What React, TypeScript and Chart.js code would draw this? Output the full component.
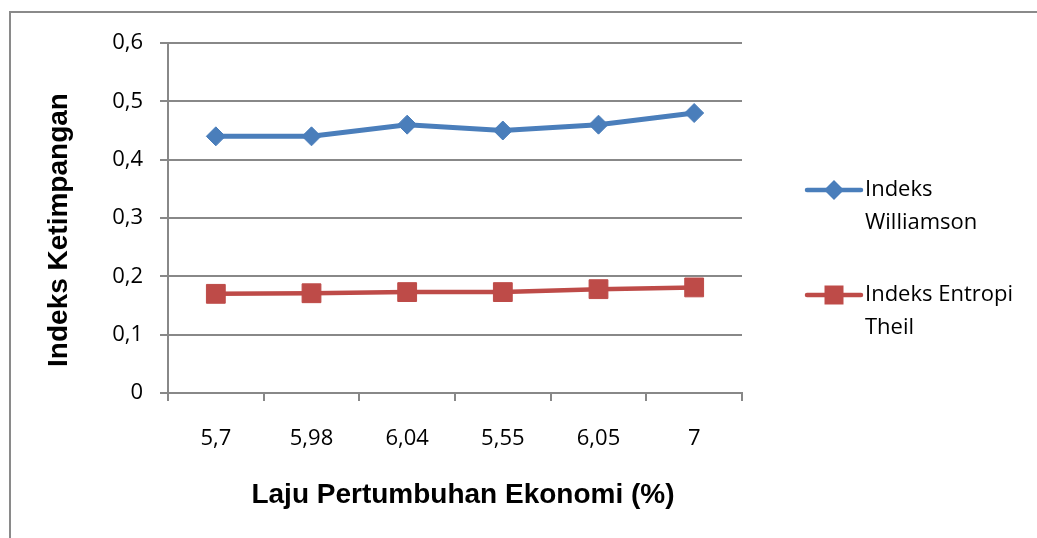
import React, { useEffect, useRef } from "react";
import { Chart, registerables } from "chart.js";

Chart.register(...registerables);

const categories = ["5,7", "5,98", "6,04", "5,55", "6,05", "7"];
const williamson = [0.44, 0.44, 0.46, 0.45, 0.46, 0.48];
const theil = [0.17, 0.171, 0.173, 0.173, 0.178, 0.181];
const yMin = 0;
const yMax = 0.6;
const yStep = 0.1;
const legendWilliamson = ["Indeks", "Williamson"];
const legendTheil = ["Indeks Entropi", "Theil"];
const xTitle = "Laju Pertumbuhan Ekonomi (%)";
const yTitle = "Indeks Ketimpangan";

const BLUE = "#4a7ebb";
const RED = "#be4b48";
const GRID = "#888888";
const TICK_FONT = '"Open Sans", "Noto Sans", sans-serif';
const TITLE_FONT = '"Liberation Sans", Arial, sans-serif';

const decorPlugin = {
  id: "decor",
  afterDraw(chart: any) {
    const ctx = chart.ctx as CanvasRenderingContext2D;
    ctx.save();
    // axis titles
    ctx.fillStyle = "#000";
    ctx.font = `bold 28px ${TITLE_FONT}`;
    ctx.textAlign = "center";
    ctx.textBaseline = "alphabetic";
    ctx.fillText(xTitle, 463, 503);
    ctx.save();
    ctx.translate(67, 230);
    ctx.rotate(-Math.PI / 2);
    ctx.fillText(yTitle, 0, 0);
    ctx.restore();

    // legend
    const lx0 = 807;
    const lx1 = 861;
    const mx = 834;
    const tx = 865;
    const rows = [
      { y: 190, color: BLUE, lw: 4.5, style: "diamond", text: legendWilliamson },
      { y: 295, color: RED, lw: 4.5, style: "square", text: legendTheil },
    ];
    ctx.font = `22px ${TICK_FONT}`;
    ctx.textAlign = "left";
    ctx.textBaseline = "middle";
    for (const r of rows) {
      ctx.strokeStyle = r.color;
      ctx.lineWidth = r.lw;
      ctx.lineCap = "round";
      ctx.beginPath();
      ctx.moveTo(lx0, r.y);
      ctx.lineTo(lx1, r.y);
      ctx.stroke();
      ctx.fillStyle = r.color;
      ctx.beginPath();
      if (r.style === "diamond") {
        const s = 10;
        ctx.moveTo(mx - s, r.y);
        ctx.lineTo(mx, r.y - s);
        ctx.lineTo(mx + s, r.y);
        ctx.lineTo(mx, r.y + s);
        ctx.closePath();
      } else {
        const h = 9.5;
        ctx.rect(mx - h, r.y - h, 2 * h, 2 * h);
      }
      ctx.fill();
      ctx.fillStyle = "#000";
      r.text.forEach((t, i) => ctx.fillText(t, tx, r.y + i * 33));
    }
    ctx.restore();
  },
};

export default function App() {
  const ref = useRef<HTMLCanvasElement | null>(null);

  useEffect(() => {
    if (!ref.current) return;
    const chart = new Chart(ref.current, {
      type: "line",
      data: {
        labels: categories,
        datasets: [
          {
            label: legendWilliamson.join(" "),
            data: williamson,
            borderColor: BLUE,
            backgroundColor: BLUE,
            borderWidth: 5,
            pointStyle: "rectRot",
            pointRadius: 9.5,
            pointBorderWidth: 1,
            pointBackgroundColor: BLUE,
            pointBorderColor: BLUE,
            tension: 0,
          },
          {
            label: legendTheil.join(" "),
            data: theil,
            borderColor: RED,
            backgroundColor: RED,
            borderWidth: 4.5,
            pointStyle: "rect",
            pointRadius: 13.3,
            pointBorderWidth: 1,
            pointBackgroundColor: RED,
            pointBorderColor: RED,
            tension: 0,
          },
        ],
      },
      options: {
        animation: false,
        responsive: true,
        maintainAspectRatio: false,
        layout: { padding: { left: 100, right: 295, top: 43, bottom: 0 } },
        plugins: {
          legend: { display: false },
          tooltip: { enabled: false },
          title: { display: false },
        },
        scales: {
          x: {
            type: "category",
            offset: true,
            grid: {
              offset: true,
              drawOnChartArea: false,
              drawTicks: true,
              tickLength: 8,
              color: GRID,
              lineWidth: 2,
            },
            border: { color: GRID, width: 2 },
            ticks: {
              color: "#000",
              font: { family: TICK_FONT, size: 22 },
              padding: 25,
              maxRotation: 0,
            },
            afterFit: (s: any) => {
              s.height = 145;
            },
          },
          y: {
            min: yMin,
            max: yMax,
            ticks: {
              stepSize: yStep,
              color: "#000",
              font: { family: TICK_FONT, size: 22 },
              padding: 17,
              callback: (v: any) => {
                const n = Number(v);
                return n === 0 ? "0" : n.toFixed(1).replace(".", ",");
              },
            },
            grid: { color: GRID, lineWidth: 2, tickLength: 8 },
            border: { color: GRID, width: 2 },
            afterFit: (s: any) => {
              s.width = 68;
            },
          },
        },
      },
      plugins: [decorPlugin],
    });
    return () => chart.destroy();
  }, []);

  return (
    <div style={{ position: "relative", width: 1037, height: 538, overflow: "hidden", background: "#fff" }}>
      <style>{`body{margin:0;overflow:hidden;background:#fff}`}</style>
      <div
        style={{
          position: "absolute",
          left: 9,
          top: 11,
          width: 1200,
          height: 800,
          border: "2px solid #8a8a8a",
          boxSizing: "border-box",
        }}
      />
      <div style={{ position: "absolute", left: 0, top: 0, width: 1037, height: 538 }}>
        <canvas ref={ref} />
      </div>
    </div>
  );
}
